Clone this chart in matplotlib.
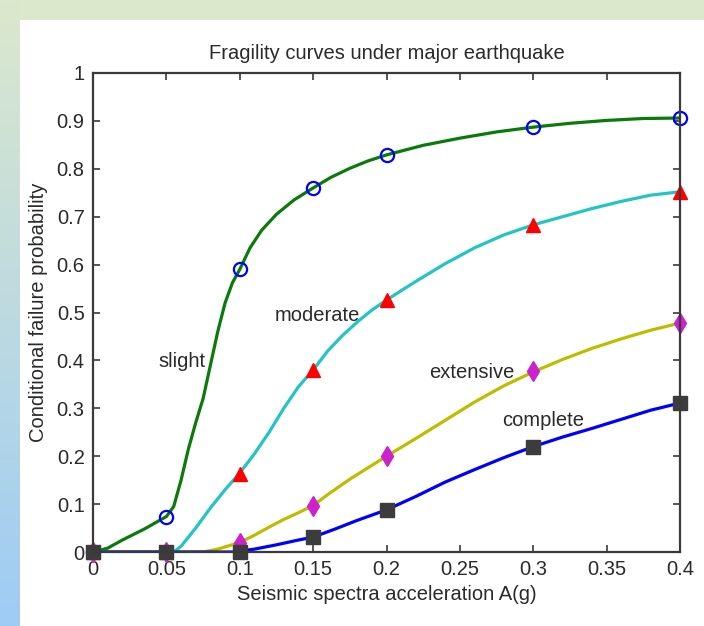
import matplotlib
matplotlib.use("Agg")
import matplotlib.pyplot as plt
import numpy as np

# points where the markers sit
pga = [0, 0.05, 0.1, 0.15, 0.2, 0.3, 0.4]
slight_pts = [0, 0.074, 0.59, 0.76, 0.829, 0.887, 0.906]
moderate_pts = [0, 0, 0.163, 0.38, 0.527, 0.683, 0.752]
extensive_pts = [0, 0, 0.018, 0.097, 0.2, 0.377, 0.478]
complete_pts = [0, 0, 0, 0.031, 0.088, 0.22, 0.311]

# curves
slight_x = [0, 0.01, 0.02, 0.035, 0.05, 0.055, 0.06, 0.065, 0.07, 0.075, 0.08, 0.085,
            0.09, 0.095, 0.1, 0.107, 0.115, 0.125, 0.137, 0.15, 0.162, 0.175, 0.187,
            0.2, 0.225, 0.25, 0.275, 0.3, 0.325, 0.35, 0.375, 0.4]
slight_y = [0, 0.008, 0.025, 0.048, 0.074, 0.095, 0.15, 0.215, 0.27, 0.32, 0.39, 0.46,
            0.52, 0.562, 0.59, 0.635, 0.672, 0.705, 0.735, 0.76, 0.782, 0.801, 0.816,
            0.829, 0.849, 0.864, 0.877, 0.887, 0.895, 0.901, 0.905, 0.906]

moderate_x = [0, 0.055, 0.06, 0.07, 0.08, 0.09, 0.1, 0.11, 0.12, 0.13, 0.14, 0.15,
              0.16, 0.17, 0.18, 0.19, 0.2, 0.22, 0.24, 0.26, 0.28, 0.3, 0.32, 0.34,
              0.36, 0.38, 0.4]
moderate_y = [0, 0, 0.012, 0.05, 0.092, 0.13, 0.165, 0.205, 0.25, 0.3, 0.345, 0.38,
              0.42, 0.452, 0.48, 0.505, 0.526, 0.565, 0.602, 0.635, 0.662, 0.683, 0.70,
              0.717, 0.732, 0.745, 0.752]

extensive_x = [0, 0.075, 0.085, 0.1, 0.11, 0.12, 0.13, 0.14, 0.15, 0.16, 0.175, 0.2,
               0.22, 0.24, 0.26, 0.28, 0.3, 0.32, 0.34, 0.36, 0.38, 0.4]
extensive_y = [0, 0, 0.006, 0.02, 0.035, 0.052, 0.068, 0.082, 0.097, 0.12, 0.152, 0.2,
               0.237, 0.275, 0.313, 0.347, 0.376, 0.402, 0.425, 0.445, 0.463, 0.478]

complete_x = [0, 0.095, 0.11, 0.125, 0.14, 0.15, 0.165, 0.18, 0.2, 0.22, 0.24, 0.26,
              0.28, 0.3, 0.32, 0.34, 0.36, 0.38, 0.4]
complete_y = [0, 0, 0.006, 0.015, 0.025, 0.031, 0.048, 0.066, 0.088, 0.116, 0.146, 0.172,
              0.197, 0.22, 0.24, 0.258, 0.277, 0.296, 0.311]

x_ticks = [0, 0.05, 0.1, 0.15, 0.2, 0.25, 0.3, 0.35, 0.4]
x_tick_labels = ["0", "0.05", "0.1", "0.15", "0.2", "0.25", "0.3", "0.35", "0.4"]
y_ticks = [0, 0.1, 0.2, 0.3, 0.4, 0.5, 0.6, 0.7, 0.8, 0.9, 1]
y_tick_labels = ["0", "0.1", "0.2", "0.3", "0.4", "0.5", "0.6", "0.7", "0.8", "0.9", "1"]

plt.rcParams['font.family'] = ['Liberation Sans', 'DejaVu Sans']
text_col = "#2a2a2a"
axis_col = "#3a3a3a"

W, H = 704, 626
fig = plt.figure(figsize=(W / 100, H / 100), dpi=100, facecolor="white")

# slide background: green strip on top, green-to-blue strip on the left
bg = np.ones((H, W, 3))
green = np.array([0.86, 0.91, 0.80])
blue = np.array([0.62, 0.80, 0.96])
bg[:20, :, :] = green
t = np.linspace(0, 1, H)[:, None]
bg[:, :20, :] = (green * (1 - t) + blue * t)[:, None, :]
bax = fig.add_axes([0, 0, 1, 1], zorder=-10)
bax.imshow(bg, aspect="auto")
bax.axis("off")

ax = fig.add_axes([93 / W, (H - 552) / H, 587 / W, 479 / H])
ax.set_facecolor("white")

lw = 2.3
ax.plot(slight_x, slight_y, color="#0b7a0b", lw=lw)
ax.plot(pga, slight_pts, ls="none", marker="o", ms=9.5, mfc="none", mec="#0000ff",
        mew=1.6, clip_on=False)
ax.plot(moderate_x, moderate_y, color="#22c4c4", lw=lw)
ax.plot(pga, moderate_pts, ls="none", marker="^", ms=10, color="#ff0000", clip_on=False)
ax.plot(extensive_x, extensive_y, color="#bdbd00", lw=lw)
ax.plot(pga, extensive_pts, ls="none", marker="d", ms=10, color="#cc22cc", clip_on=False)
ax.plot(complete_x, complete_y, color="#0000ff", lw=lw)
ax.plot(pga, complete_pts, ls="none", marker="s", ms=9.5, color="#3c3c3c", clip_on=False)

fs = 14.5
ax.text(0.0443, 0.397, "slight", fontsize=fs, color=text_col, ha="left", va="center")
ax.text(0.124, 0.493, "moderate", fontsize=fs, color=text_col, ha="left", va="center")
ax.text(0.229, 0.374, "extensive", fontsize=fs, color=text_col, ha="left", va="center")
ax.text(0.279, 0.274, "complete", fontsize=fs, color=text_col, ha="left", va="center")

ax.set_xlim(0, 0.4)
ax.set_ylim(0, 1)
ax.set_xticks(x_ticks)
ax.set_xticklabels(x_tick_labels)
ax.set_yticks(y_ticks)
ax.set_yticklabels(y_tick_labels)
ax.tick_params(direction="in", length=5, width=1.2, colors=axis_col, labelcolor=text_col,
               labelsize=fs, top=True, right=True, pad=6)
for s in ax.spines.values():
    s.set_color(axis_col)
    s.set_linewidth(1.6)

ax.set_xlabel("Seismic spectra acceleration A(g)", fontsize=fs, color=text_col, labelpad=4)
ax.set_ylabel("Conditional failure probability", fontsize=fs, color=text_col, labelpad=6)
ax.set_title("Fragility curves under major earthquake", fontsize=fs, color=text_col, pad=10)

fig.savefig("out.png", dpi=100, facecolor="white")
